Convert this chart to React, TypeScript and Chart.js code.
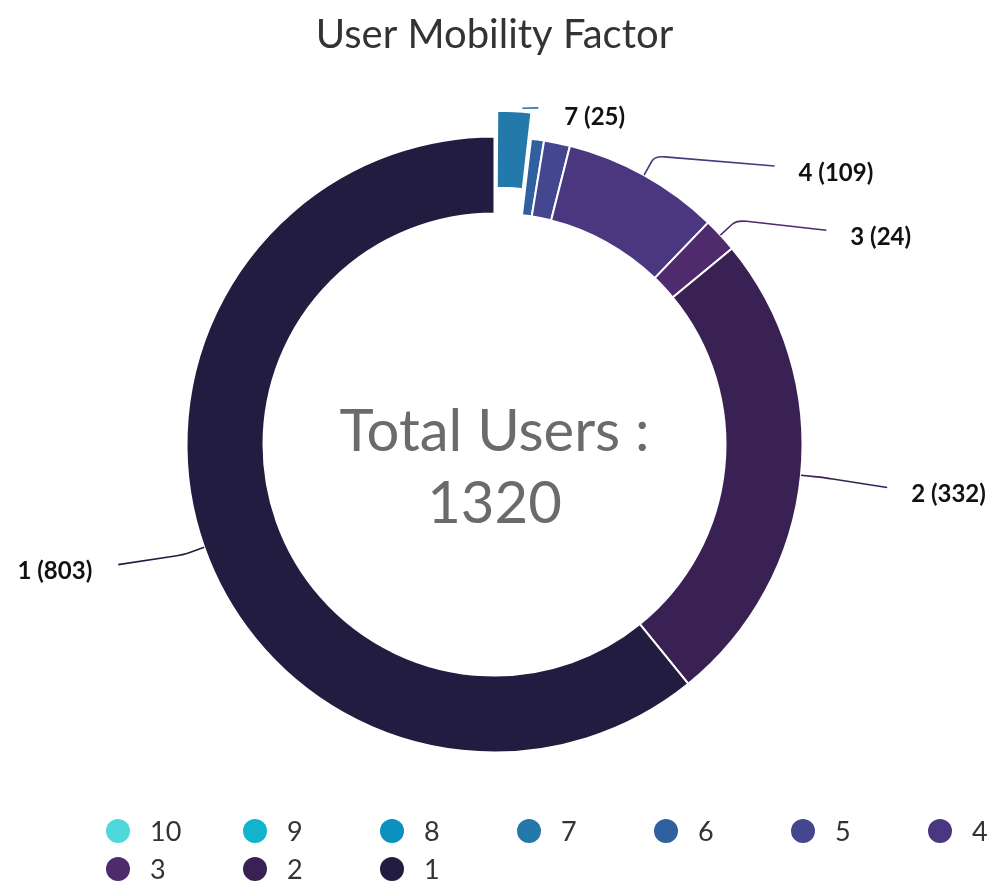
import React, { useEffect, useRef } from 'react';
import { Chart, registerables } from 'chart.js';

Chart.register(...registerables);

const categories = ['10', '9', '8', '7', '6', '5', '4', '3', '2', '1'];
const values = [0, 0, 0, 25, 9, 18, 109, 24, 332, 803];
const colors = ['#4fd8dc', '#12b3cc', '#0b90bf', '#2379aa', '#30609e', '#444790', '#4a3780', '#4f2a6d', '#3a2154', '#221d40'];
const offsets = [0, 0, 0, 55, 0, 0, 0, 0, 0, 0];
const labeledCategories = ['7', '4', '3', '2', '1'];
const titleText = 'User Mobility Factor';
const centerLabel = 'Total Users :';

const FONT = 'Lato, "Open Sans", sans-serif';

const pieLabelPlugin = {
  id: 'pieLabels',
  afterDatasetsDraw(chart: any) {
    const meta = chart.getDatasetMeta(0);
    const ctx = chart.ctx as CanvasRenderingContext2D;
    const R = 395;
    meta.data.forEach((arc: any, i: number) => {
      if (!labeledCategories.includes(categories[i])) return;
      const { x, y, startAngle, endAngle, outerRadius, circumference } = arc.getProps(
        ['x', 'y', 'startAngle', 'endAngle', 'outerRadius', 'circumference'],
        true
      );
      const mid = (startAngle + endAngle) / 2;
      const off = offsets[i];
      const text = `${categories[i]} (${values[i]})`;
      ctx.save();
      ctx.strokeStyle = colors[i];
      ctx.lineWidth = 1.6;
      ctx.font = `bold 24px ${FONT}`;
      ctx.fillStyle = '#111';
      ctx.textBaseline = 'middle';
      if (off > 0) {
        // same geometry as Chart.js ArcElement.draw for offset arcs
        const t = off / 4;
        const fix = 1 - Math.sin(Math.min(Math.PI, circumference || 0));
        const r = outerRadius + t * fix;
        const ox = x + Math.cos(mid) * t;
        const oy = y + Math.sin(mid) * t;
        const p0x = ox + Math.cos(mid) * r + 8;
        const p0y = oy + Math.sin(mid) * r - 3;
        const p1x = ox + Math.cos(endAngle) * r + 5;
        const p1y = oy + Math.sin(endAngle) * r - 5;
        ctx.beginPath();
        ctx.moveTo(p0x, p0y);
        ctx.lineTo(p1x, p1y);
        ctx.stroke();
        ctx.textAlign = 'left';
        ctx.fillText(text, p1x + 26, p1y + 9);
      } else {
        const c = Math.cos(mid);
        const s = Math.sin(mid);
        const p0x = x + c * outerRadius;
        const p0y = y + s * outerRadius;
        const p1x = x + c * (outerRadius + 22);
        const p1y = y + s * (outerRadius + 22);
        const ty = p1y + 17;
        const ey = ty - 7;
        const right = c >= 0;
        const dx = Math.sqrt(Math.max(0, R * R - (ey - y) * (ey - y)));
        const ex = right ? x + dx : x - dx;
        const pax = x + c * (outerRadius + 16);
        const pay = y + s * (outerRadius + 16);
        const len = Math.hypot(ex - p1x, ey - p1y) || 1;
        const pbx = p1x + ((ex - p1x) / len) * 10;
        const pby = p1y + ((ey - p1y) / len) * 10;
        ctx.beginPath();
        ctx.moveTo(p0x, p0y);
        ctx.lineTo(pax, pay);
        ctx.quadraticCurveTo(p1x, p1y, pbx, pby);
        ctx.lineTo(ex, ey);
        ctx.stroke();
        ctx.textAlign = right ? 'left' : 'right';
        ctx.fillText(text, right ? ex + 24 : ex - 26, ty);
      }
      ctx.restore();
    });
  },
};

const centerTextPlugin = {
  id: 'centerText',
  afterDraw(chart: any) {
    const meta = chart.getDatasetMeta(0);
    if (!meta.data.length) return;
    const { x, y } = meta.data[0];
    const ctx = chart.ctx as CanvasRenderingContext2D;
    const total = values.reduce((a, b) => a + b, 0);
    ctx.save();
    ctx.fillStyle = '#6b6b6b';
    ctx.font = `58px ${FONT}`;
    ctx.textAlign = 'center';
    ctx.textBaseline = 'alphabetic';
    ctx.fillText(centerLabel, x, y + 6);
    ctx.fillText(String(total), x, y + 78);
    ctx.restore();
  },
};

export default function App() {
  const canvasRef = useRef<HTMLCanvasElement | null>(null);

  useEffect(() => {
    if (!canvasRef.current) return;
    const chart = new Chart(canvasRef.current, {
      type: 'doughnut',
      data: {
        labels: categories,
        datasets: [
          {
            data: values,
            backgroundColor: colors,
            borderColor: '#ffffff',
            borderWidth: 2,
            offset: offsets,
            hoverOffset: 0,
          },
        ],
      },
      options: {
        responsive: false,
        animation: false,
        cutout: '75%',
        radius: 308,
        layout: { padding: { left: 0, right: 10, top: 0, bottom: 74 } },
        plugins: {
          legend: { display: false },
          tooltip: { enabled: false },
          title: {
            display: true,
            text: titleText,
            color: '#333333',
            font: { family: FONT, size: 40, weight: 'normal' },
            padding: { top: 11, bottom: 21 },
          },
        },
      },
      plugins: [pieLabelPlugin, centerTextPlugin],
    });
    return () => chart.destroy();
  }, []);

  return (
    <div
      style={{
        position: 'fixed',
        left: 0,
        top: 0,
        width: 999,
        height: 883,
        overflow: 'hidden',
        background: '#ffffff',
      }}
    >
      <canvas ref={canvasRef} width={999} height={883} style={{ width: 999, height: 883, display: 'block' }} />
      <div
        style={{
          position: 'absolute',
          left: 106,
          top: 812,
          display: 'grid',
          gridTemplateColumns: 'repeat(7, 137px)',
          gridAutoRows: '38px',
          fontFamily: FONT,
          fontSize: 27,
          color: '#333333',
        }}
      >
        {categories.map((c, i) => (
          <div key={c} style={{ display: 'flex', alignItems: 'center', height: 38 }}>
            <span
              style={{
                display: 'inline-block',
                width: 24,
                height: 24,
                borderRadius: '50%',
                background: colors[i],
                marginRight: 20,
                flexShrink: 0,
              }}
            />
            <span style={{ lineHeight: '38px' }}>{c}</span>
          </div>
        ))}
      </div>
    </div>
  );
}
